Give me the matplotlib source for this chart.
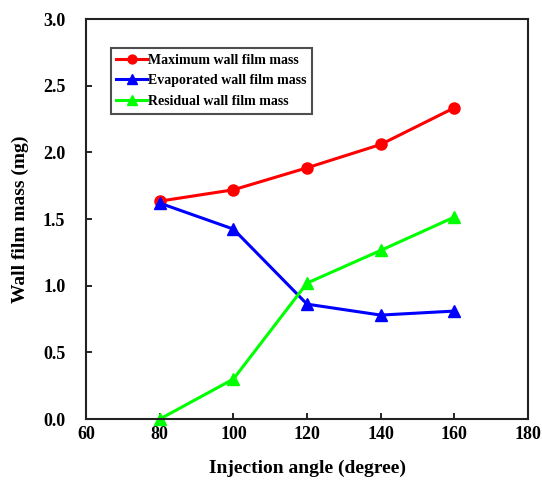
import matplotlib
matplotlib.use("Agg")
import matplotlib.pyplot as plt

angles = [80, 100, 120, 140, 160]
max_mass = [1.635, 1.72, 1.885, 2.06, 2.335]
evap_mass = [1.62, 1.425, 0.862, 0.78, 0.81]
resid_mass = [0.0, 0.30, 1.02, 1.265, 1.515]

plt.rcParams["font.family"] = ["Liberation Serif", "DejaVu Serif"]
plt.rcParams["font.weight"] = "bold"

fig = plt.figure(figsize=(5.42, 4.8), dpi=100)
ax = fig.add_axes([0.159, 0.127, 0.815, 0.833])

ax.plot(angles, max_mass, color="#ff0000", lw=2.2, marker="o", ms=8,
        label="Maximum wall film mass", clip_on=False)
ax.plot(angles, evap_mass, color="#0000ff", lw=2.2, marker="^", ms=9,
        label="Evaporated wall film mass", clip_on=False)
ax.plot(angles, resid_mass, color="#00ff00", lw=2.2, marker="^", ms=9,
        label="Residual wall film mass", clip_on=False)

ax.set_xlim(60, 180)
ax.set_ylim(0, 3.0)
ax.set_xticks(range(60, 181, 20))
ax.set_yticks([0, 0.5, 1.0, 1.5, 2.0, 2.5, 3.0])
ax.set_yticklabels([f"{v:.1f}" for v in ax.get_yticks()])
ax.tick_params(direction="in", length=4, width=1.2, labelsize=13,
               top=False, right=False)
ax.tick_params(axis="x", pad=5)
ax.tick_params(axis="y", pad=15)
for s in ax.spines.values():
    s.set_linewidth(1.5)
    s.set_color("#222222")

ax.set_xlabel("Injection angle (degree)", fontsize=14, fontweight="bold", labelpad=12)
ax.set_ylabel("Wall film mass (mg)", fontsize=14, fontweight="bold", labelpad=10)

leg = ax.legend(loc="upper left", bbox_to_anchor=(0.04, 0.945), fontsize=10,
                frameon=True, fancybox=False, edgecolor="#222222",
                handlelength=2.2, handletextpad=0.1, borderpad=0.4,
                labelspacing=0.55, markerscale=0.8)
leg.get_frame().set_linewidth(1.5)
for t in leg.get_texts():
    t.set_fontweight("bold")

fig.savefig("out.png", dpi=100)
